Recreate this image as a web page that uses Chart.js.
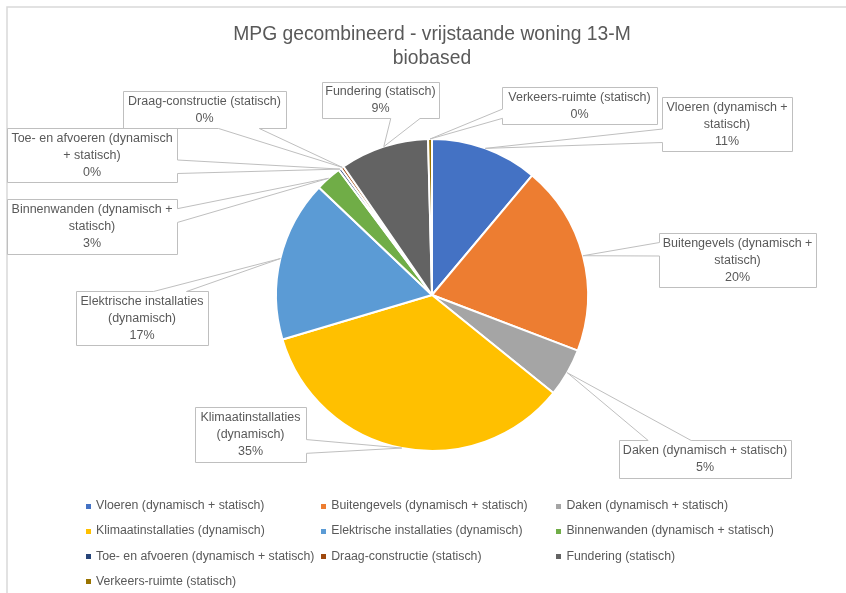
<!DOCTYPE html>
<html>
<head>
<meta charset="utf-8">
<script src="https://cdn.jsdelivr.net/npm/chart.js@4.4.1/dist/chart.umd.min.js"></script>
<style>
html,body{margin:0;padding:0;background:#fff;}
canvas{display:block;}
</style>
</head>
<body>
<canvas id="c" width="846" height="593"></canvas>
<script>
// ---- data ----
const titleLines = ['MPG gecombineerd - vrijstaande woning 13-M', 'biobased'];
const categories = [
  'Vloeren (dynamisch + statisch)',
  'Buitengevels (dynamisch + statisch)',
  'Daken (dynamisch + statisch)',
  'Klimaatinstallaties (dynamisch)',
  'Elektrische installaties (dynamisch)',
  'Binnenwanden (dynamisch + statisch)',
  'Toe- en afvoeren (dynamisch + statisch)',
  'Draag-constructie (statisch)',
  'Fundering (statisch)',
  'Verkeers-ruimte (statisch)'
];
const values = [11.1, 19.7, 5.0, 34.6, 16.7, 2.7, 0.3, 0.3, 9.2, 0.4];
const colors = ['#4472C4','#ED7D31','#A5A5A5','#FFC000','#5B9BD5','#70AD47','#264478','#9E480E','#636363','#997300'];

// ---- layout (callout boxes; words per text line) ----
const calloutBoxes = [
  {x:662, y:97,  w:130, h:54, lines:[3,1]},
  {x:659, y:233, w:157, h:54, lines:[3,1]},
  {x:619, y:440, w:172, h:38, lines:[4]},
  {x:195, y:407, w:111, h:55, lines:[1,1]},
  {x:76,  y:291, w:132, h:54, lines:[2,1]},
  {x:7,   y:199, w:170, h:55, lines:[3,1]},
  {x:7,   y:128, w:170, h:54, lines:[4,2]},
  {x:123, y:91,  w:163, h:37, lines:[2]},
  {x:322, y:82,  w:117, h:36, lines:[2]},
  {x:502, y:87,  w:155, h:37, lines:[2]}
];
const FONT = "'Liberation Sans', Arial, sans-serif";
const TEXT_COLOR = '#595959';
const legendLayout = {x0:86, colStep:235.2, y0:506, rowStep:25.1, cols:3, box:5, gap:10};

function wedgePath(ctx, b, tx, ty) {
  const l = b.x + 0.5, t = b.y + 0.5, w = b.w, h = b.h;
  const r = l + w, bt = t + h;
  const hc = l + w / 2, vc = t + h / 2;
  const dx = tx - hc, dy = ty - vc;
  const dq = dx * h / w;
  const dz = Math.abs(dy) - Math.abs(dq);
  const x1 = l + w * (dx > 0 ? 7 : 2) / 12, x2 = l + w * (dx > 0 ? 10 : 5) / 12;
  const y1 = t + h * (dy > 0 ? 7 : 2) / 12, y2 = t + h * (dy > 0 ? 10 : 5) / 12;
  const side = dz > 0 ? (dy < 0 ? 'top' : 'bottom') : (dx > 0 ? 'right' : 'left');
  ctx.beginPath();
  ctx.moveTo(l, t);
  if (side === 'top') { ctx.lineTo(x1, t); ctx.lineTo(tx, ty); ctx.lineTo(x2, t); }
  ctx.lineTo(r, t);
  if (side === 'right') { ctx.lineTo(r, y1); ctx.lineTo(tx, ty); ctx.lineTo(r, y2); }
  ctx.lineTo(r, bt);
  if (side === 'bottom') { ctx.lineTo(x2, bt); ctx.lineTo(tx, ty); ctx.lineTo(x1, bt); }
  ctx.lineTo(l, bt);
  if (side === 'left') { ctx.lineTo(l, y2); ctx.lineTo(tx, ty); ctx.lineTo(l, y1); }
  ctx.closePath();
}

const framePlugin = {
  id: 'frame',
  beforeDraw(chart) {
    const ctx = chart.ctx;
    ctx.save();
    ctx.fillStyle = '#fff';
    ctx.fillRect(0, 0, chart.width, chart.height);
    ctx.strokeStyle = '#d9d9d9';
    ctx.lineWidth = 1.5;
    ctx.beginPath();
    ctx.moveTo(7, chart.height);
    ctx.lineTo(7, 7);
    ctx.lineTo(chart.width, 7);
    ctx.stroke();
    ctx.restore();
  }
};

const calloutPlugin = {
  id: 'callouts',
  afterDatasetsDraw(chart) {
    const ctx = chart.ctx;
    const meta = chart.getDatasetMeta(0);
    const data = chart.data.datasets[0].data;
    const total = data.reduce((a, b) => a + b, 0);
    const shapes = meta.data.map((arc, i) => {
      const p = arc.getProps(['x','y','startAngle','endAngle','outerRadius'], true);
      const mid = (p.startAngle + p.endAngle) / 2;
      return {b: calloutBoxes[i], tx: p.x + Math.cos(mid) * p.outerRadius, ty: p.y + Math.sin(mid) * p.outerRadius};
    });
    ctx.save();
    shapes.forEach(s => { wedgePath(ctx, s.b, s.tx, s.ty); ctx.fillStyle = '#fff'; ctx.fill(); });
    ctx.strokeStyle = '#bfbfbf';
    ctx.lineWidth = 1;
    shapes.forEach(s => { wedgePath(ctx, s.b, s.tx, s.ty); ctx.stroke(); });
    ctx.fillStyle = TEXT_COLOR;
    ctx.font = '12.5px ' + FONT;
    ctx.textAlign = 'center';
    ctx.textBaseline = 'middle';
    shapes.forEach((s, i) => {
      const words = chart.data.labels[i].split(' ');
      const lines = [];
      let k = 0;
      s.b.lines.forEach(n => { lines.push(words.slice(k, k + n).join(' ')); k += n; });
      lines.push(Math.round(data[i] / total * 100) + '%');
      const lh = 17;
      const cx = s.b.x + s.b.w / 2, cy = s.b.y + s.b.h / 2 + 0.5;
      const y0 = cy - (lines.length - 1) * lh / 2;
      lines.forEach((ln, j) => ctx.fillText(ln, cx, y0 + j * lh));
    });
    ctx.restore();
  }
};

const legendPlugin = {
  id: 'gridLegend',
  afterDraw(chart) {
    const ctx = chart.ctx;
    const L = legendLayout;
    const bg = chart.data.datasets[0].backgroundColor;
    ctx.save();
    ctx.font = '12.3px ' + FONT;
    ctx.textBaseline = 'middle';
    ctx.textAlign = 'left';
    chart.data.labels.forEach((lab, i) => {
      const col = i % L.cols, row = Math.floor(i / L.cols);
      const x = L.x0 + col * L.colStep, y = L.y0 + row * L.rowStep;
      ctx.fillStyle = bg[i];
      ctx.fillRect(Math.round(x), Math.round(y - L.box / 2), L.box, L.box);
      ctx.fillStyle = TEXT_COLOR;
      ctx.fillText(lab, x + L.gap, y);
    });
    ctx.restore();
  }
};

Chart.defaults.font.family = FONT;

new Chart(document.getElementById('c'), {
  type: 'pie',
  data: {
    labels: categories,
    datasets: [{
      data: values,
      backgroundColor: colors,
      borderColor: '#ffffff',
      borderWidth: 2,
      hoverOffset: 0
    }]
  },
  options: {
    responsive: false,
    animation: false,
    devicePixelRatio: 1,
    layout: { padding: { left: 18, right: 0, top: 0, bottom: 141 } },
    plugins: {
      legend: { display: false },
      tooltip: { enabled: false },
      title: {
        display: true,
        text: titleLines,
        color: TEXT_COLOR,
        font: { family: FONT, size: 19.3, weight: 'normal', lineHeight: 24 / 19.3 },
        padding: { top: 23, bottom: 67 }
      }
    }
  },
  plugins: [framePlugin, calloutPlugin, legendPlugin]
});
</script>
</body>
</html>
